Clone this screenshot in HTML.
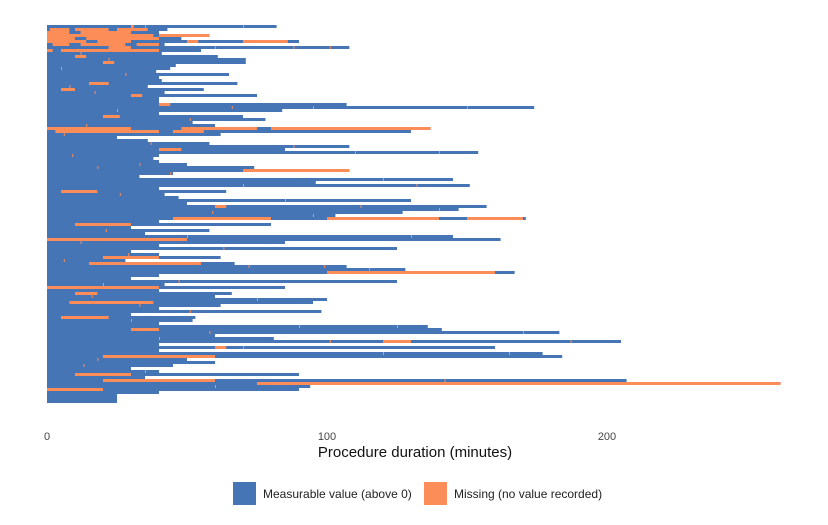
<!DOCTYPE html>
<html><head><meta charset="utf-8">
<style>
body{margin:0;background:#fff;font-family:"Liberation Sans",sans-serif;}
svg text{font-family:"Liberation Sans",sans-serif;}
</style></head>
<body>
<svg id="chart" width="828" height="520" viewBox="0 0 828 520" xmlns="http://www.w3.org/2000/svg">
<g id="bars"></g>
<g id="axis"></g>
<text x="415" y="457" font-size="15" text-anchor="middle" fill="#111">Procedure duration (minutes)</text>
<g>
<rect x="233" y="482" width="23" height="23" fill="#4575b4"/>
<text x="263" y="498" font-size="12" fill="#222">Measurable value (above 0)</text>
<rect x="424" y="482" width="23" height="23" fill="#fc8d59"/>
<text x="454" y="498" font-size="12" fill="#222">Missing (no value recorded)</text>
</g>
</svg>
<script>
const durations=[82,43,40,58,48,90,42,108,55,41,61,71,71,46,44,39,65,40,41,68,36,56,42,75,40,40,107,174,84,40,70,78,52,60,137,130,62,25,36,58,108,85,154,40,38,40,50,74,108,45,33,145,96,151,40,64,42,47,130,50,157,147,127,103,171,40,80,30,58,35,145,162,85,40,125,30,40,62,28,67,107,128,167,40,30,125,42,85,40,66,60,100,95,62,40,98,30,53,52,40,136,141,183,60,81,205,40,160,40,177,184,50,60,45,30,40,90,35,207,262,94,90,40,25,25,25];
const missingRows=[0,1,1,1,2,2,3,3,4,4,5,5,5,5,6,6,6,7,8,8,10,12,19,21,23,26,30,34,34,34,35,35,41,48,55,60,64,64,64,66,71,77,79,82,87,89,92,97,101,105,107,110,116,118,119,121];
const missingStart=[30,1,10,25,0,12,0,40,0,14,0,18,50,70,2,12,32,22,0,5,10,20,15,5,30,40,20,0,48,80,3,45,40,70,5,60,45,100,150,10,0,20,15,100,0,10,8,5,30,120,60,20,10,20,75,0];
const missingEnd=[31,8,22,36,8,30,38,58,10,40,14,30,54,86,8,28,40,30,2,40,14,24,22,10,34,44,26,30,75,137,40,56,48,108,18,64,80,140,170,30,50,40,55,160,40,18,38,22,40,130,64,60,30,60,262,20];
const dotRows=[0,0,2,4,5,5,7,7,7,9,11,13,14,16,18,20,22,24,27,27,27,28,31,33,36,39,40,42,42,43,46,47,49,51,53,53,56,58,60,61,62,63,65,68,70,70,72,74,76,78,80,80,81,82,82,85,86,88,90,91,93,95,98,100,100,102,102,104,105,105,107,109,109,111,113,115,117,118,118,120];
const dotAt=[35,70,45,33,95,130,60,88,101,12,22,55,5,28,48,8,17,40,66,95,150,25,51,14,6,37,88,110,140,9,33,18,44,120,70,132,26,85,112,140,59,95,73,21,50,130,12,63,29,6,72,99,115,134,158,47,20,58,16,75,33,51,30,90,125,58,170,40,101,187,70,120,165,18,13,35,52,28,142,60];
const tickLabels=["0","100","200"];
const tickValues=[0,100,200];

const NS="http://www.w3.org/2000/svg";
const x0=47, pxPerMin=2.8, y0=25, rowH=3;
const xScale=v=>x0+v*pxPerMin;
const yScale=i=>y0+i*rowH;
const bars=document.getElementById('bars');
durations.forEach((d,i)=>{
  const r=document.createElementNS(NS,'rect');
  r.setAttribute('x',xScale(0));r.setAttribute('y',yScale(i));
  r.setAttribute('width',xScale(d)-xScale(0));r.setAttribute('height',rowH);
  r.setAttribute('fill','#4575b4');
  
  
  bars.appendChild(r);
});
missingRows.forEach((row,k)=>{
  const s=missingStart[k], e=Math.min(missingEnd[k],durations[row]);
  if(e<=s) return;
  const r=document.createElementNS(NS,'rect');
  r.setAttribute('x',xScale(s));r.setAttribute('y',yScale(row));
  r.setAttribute('width',xScale(e)-xScale(s));r.setAttribute('height',rowH);
  r.setAttribute('fill','#fc8d59');
  
  
  bars.appendChild(r);
});
dotRows.forEach((row,k)=>{
  const s=dotAt[k];
  if(s>=durations[row]) return;
  const r=document.createElementNS(NS,'rect');
  r.setAttribute('x',xScale(s));r.setAttribute('y',yScale(row));
  r.setAttribute('width',1);r.setAttribute('height',rowH);
  r.setAttribute('fill','#fc8d59');
  
  
  bars.appendChild(r);
});
const axis=document.getElementById('axis');
tickValues.forEach((v,i)=>{
  const t=document.createElementNS(NS,'text');
  t.setAttribute('x',xScale(v));t.setAttribute('y',440);
  t.setAttribute('font-size','11');t.setAttribute('text-anchor','middle');t.setAttribute('fill','#444');
  t.textContent=tickLabels[i];
  
  
  axis.appendChild(t);
});
</script>
</body></html>
